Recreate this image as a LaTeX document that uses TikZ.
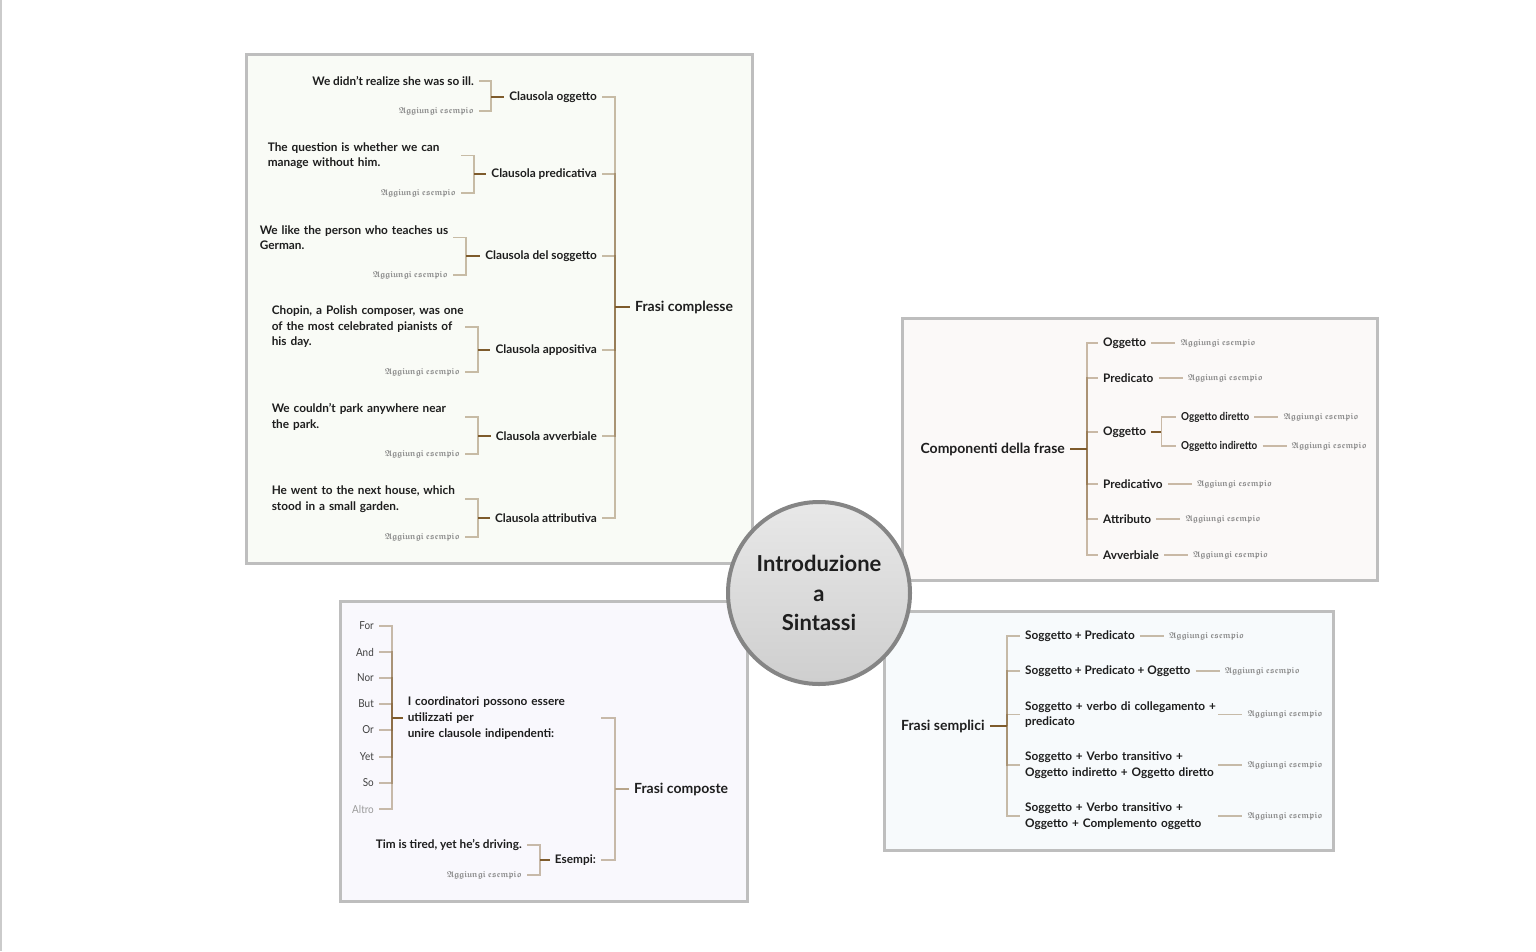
\documentclass[tikz,border=0pt]{standalone}
\usepackage{fontspec}
\usepackage{amssymb}
\usepackage{bm}
\setmainfont{Lato}
\newfontfamily\condf{Lato}[FakeStretch=0.9]
\usetikzlibrary{positioning}
\definecolor{txt}{HTML}{1E1E1E}
\definecolor{brn}{HTML}{7E5B2C}
\definecolor{aggc}{HTML}{888888}
\definecolor{bord}{HTML}{BEBEBE}
\definecolor{circb}{HTML}{858585}
\definecolor{fa}{HTML}{F9FBF6}
\definecolor{fb}{HTML}{FBF9F8}
\definecolor{fc}{HTML}{F9F8FD}
\definecolor{fd}{HTML}{F7FAFC}
\newcommand\aggtext{$\bm{\mathfrak{Aggiungi}}\ \bm{\mathfrak{esempio}}$}
\newcommand\lnx[1]{\mbox{#1}}
\begin{document}
\begin{tikzpicture}[x=1pt,y=-1pt,
 box/.style={draw=bord, line width=3pt},
 t/.style={font=\fontsize{11.8}{15.5}\selectfont\bfseries, text=txt, inner xsep=5pt, inner ysep=2pt},
 tw/.style={t, text width=188pt, align=left},
 hd/.style={font=\fontsize{14}{17}\selectfont\bfseries, text=txt, inner xsep=5pt, inner ysep=2pt},
 ag/.style={font=\fontsize{8.6}{11}\selectfont, text=aggc, inner xsep=5pt, inner ysep=2pt},
 cd/.style={font=\fontsize{11}{13}\selectfont\condf, text=txt!85, inner xsep=5pt, inner ysep=2pt},
 cdb/.style={font=\fontsize{11}{13}\selectfont\condf\bfseries, text=txt, inner xsep=5pt, inner ysep=2pt},
 lk/.style={draw=brn, draw opacity=0.4, line width=1.1pt},
 stub/.style={draw=brn, line width=1.5pt},
]
\useasboundingbox (0,0) rectangle (1536,951);
\fill[white] (0,0) rectangle (1536,951);
\draw[bord!80, line width=1.5pt] (0.75,0) -- (0.75,951);

% ---------- Frasi complesse ----------
\draw[box, fill=fa] (246,54) rectangle (752,563);
\node[hd, anchor=west] (fcx) at (630,307) {Frasi complesse};
\coordinate (fcb) at (615,307);
\node[t, anchor=east] (c1) at (602,97) {Clausola oggetto};
\node[t, anchor=east] (c2) at (602,174) {Clausola predicativa};
\node[t, anchor=east] (c3) at (602,256) {Clausola del soggetto};
\node[t, anchor=east] (c4) at (602,350) {Clausola appositiva};
\node[t, anchor=east] (c5) at (602,436) {Clausola avverbiale};
\node[t, anchor=east] (c6) at (602,518) {Clausola attributiva};
\foreach \i in {1,...,6} \draw[lk] (c\i.east) -| (fcb);
\draw[stub] (fcb) -- (fcx.west);

\coordinate (b1) at (491,97);
\coordinate (b2) at (474,174);
\coordinate (b3) at (466,256);
\coordinate (b4) at (478,350);
\coordinate (b5) at (478,436);
\coordinate (b6) at (478,518);
\node[t, anchor=east] (e1) at (479,81) {We didn't realize she was so ill.};
\node[ag, anchor=east] (a1) at (479,111) {\aggtext};
\node[tw, anchor=east] (e2) at (461,155.5) {\lnx{The question is whether we can}\\\lnx{manage without him.}};
\node[ag, anchor=east] (a2) at (461,193) {\aggtext};
\node[tw, anchor=east] (e3) at (453,237.5) {\lnx{We like the person who teaches us}\\\lnx{German.}};
\node[ag, anchor=east] (a3) at (453,275) {\aggtext};
\node[tw, anchor=east] (e4) at (465,327) {\lnx{Chopin, a Polish composer, was one}\\\lnx{of the most celebrated pianists of}\\\lnx{his day.}};
\node[ag, anchor=east] (a4) at (465,372) {\aggtext};
\node[tw, anchor=east] (e5) at (465,417) {\lnx{We couldn't park anywhere near}\\\lnx{the park.}};
\node[ag, anchor=east] (a5) at (465,454) {\aggtext};
\node[tw, anchor=east] (e6) at (465,499) {\lnx{He went to the next house, which}\\\lnx{stood in a small garden.}};
\node[ag, anchor=east] (a6) at (465,537) {\aggtext};
\foreach \i in {1,...,6} {
  \draw[lk] (e\i.east) -| (b\i);
  \draw[lk] (a\i.east) -| (b\i);
  \draw[stub] (b\i) -- (c\i.west);
}

% ---------- Componenti della frase ----------
\draw[box, fill=fb] (902,318) rectangle (1377,580);
\node[hd, anchor=east] (cp) at (1070,449) {Componenti della frase};
\coordinate (cpb) at (1087,449);
\draw[stub] (cp.east) -- (cpb);
\node[t, anchor=west] (k1) at (1098,343) {Oggetto};
\node[t, anchor=west] (k2) at (1098,378) {Predicato};
\node[t, anchor=west] (k3) at (1098,432) {Oggetto};
\node[t, anchor=west] (k4) at (1098,484) {Predicativo};
\node[t, anchor=west] (k5) at (1098,519) {Attributo};
\node[t, anchor=west] (k6) at (1098,555) {Avverbiale};
\foreach \i in {1,...,6} \draw[lk] (cpb) |- (k\i.west);
\foreach \i in {1,2,4,5,6} {
  \node[ag, right=24pt of k\i] (ak\i) {\aggtext};
  \draw[lk] (k\i.east) -- (ak\i.west);
}
\coordinate (k3b) at ([xshift=10pt]k3.east);
\draw[stub] (k3.east) -- (k3b);
\node[cdb, anchor=west] (k31) at (1176,417) {Oggetto diretto};
\node[cdb, anchor=west] (k32) at (1176,446) {Oggetto indiretto};
\foreach \i in {31,32} {
  \draw[lk] (k3b) |- (k\i.west);
  \node[ag, right=24pt of k\i] (ak\i) {\aggtext};
  \draw[lk] (k\i.east) -- (ak\i.west);
}

% ---------- Frasi semplici ----------
\draw[box, fill=fd] (884,611) rectangle (1333,850);
\node[hd, anchor=west] (fs) at (896,726) {Frasi semplici};
\coordinate (fsb) at (1007,726);
\draw[stub] (fs.east) -- (fsb);
\node[t, anchor=west] (s1) at (1020,636) {Soggetto + Predicato};
\node[t, anchor=west] (s2) at (1020,671) {Soggetto + Predicato + Oggetto};
\node[tw, anchor=west] (s3) at (1020,714.5) {\lnx{Soggetto + verbo di collegamento +}\\\lnx{predicato}};
\node[tw, anchor=west] (s4) at (1020,765) {\lnx{Soggetto + Verbo transitivo +}\\\lnx{Oggetto indiretto + Oggetto diretto}};
\node[tw, anchor=west] (s5) at (1020,816) {\lnx{Soggetto + Verbo transitivo +}\\\lnx{Oggetto + Complemento oggetto}};
\foreach \i in {1,...,5} {
  \draw[lk] (fsb) |- (s\i.west);
  \node[ag, right=24pt of s\i] (as\i) {\aggtext};
  \draw[lk] (s\i.east) -- (as\i.west);
}

% ---------- Frasi composte ----------
\draw[box, fill=fc] (340,601) rectangle (747,901);
\node[hd, anchor=west] (fp) at (629,789) {Frasi composte};
\coordinate (fpb) at (615,789);
\node[tw, anchor=east, font=\fontsize{11.8}{16}\selectfont\bfseries] (p1) at (601,718) {\lnx{I coordinatori possono essere}\\\lnx{utilizzati per}\\\lnx{unire clausole indipendenti:}};
\node[t, anchor=east] (p2) at (601,860) {Esempi:};
\draw[lk] (p1.east) -| (fpb);
\draw[lk] (p2.east) -| (fpb);
\draw[stub, draw=brn!55] (fpb) -- (fp.west);
\coordinate (p1b) at (392,718);
\draw[stub] (p1b) -- (p1.west);
\foreach \w/\y [count=\i] in {For/626, And/652, Nor/678, But/704, Or/730, Yet/757, So/783}
  \node[cd, anchor=east] (w\i) at (379,\y) {\w};
\node[cd, anchor=east, text=aggc!85] (w8) at (379,809) {Altro};
\foreach \i in {1,...,8} \draw[lk] (w\i.east) -| (p1b);
\coordinate (p2b) at (540,860);
\draw[stub] (p2b) -- (p2.west);
\node[t, anchor=east] (x1) at (527,845) {Tim is tired, yet he's driving.};
\node[ag, anchor=east] (x2) at (527,875) {\aggtext};
\draw[lk] (x1.east) -| (p2b);
\draw[lk] (x2.east) -| (p2b);

% ---------- centre ----------
\node[circle, draw=circb, line width=4pt, minimum size=182pt, top color=black!9, bottom color=black!19,
  align=center, font=\fontsize{22}{29.5}\selectfont\bfseries, text=txt] (ctr) at (819,593) {Introduzione\\a\\Sintassi};
\end{tikzpicture}
\end{document}
